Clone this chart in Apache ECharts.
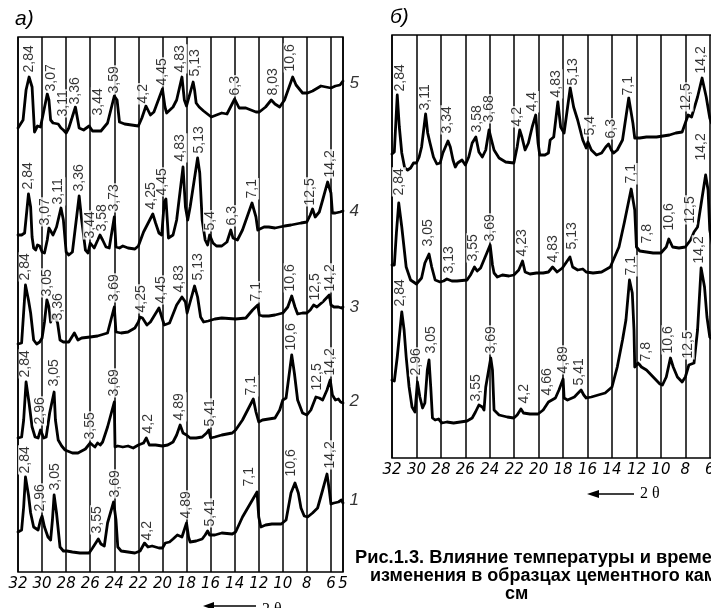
<!DOCTYPE html>
<html>
<head>
<meta charset="utf-8">
<script src="https://cdn.jsdelivr.net/npm/echarts@6/dist/echarts.min.js"></script>
<style>
  html, body { margin: 0; padding: 0; background: #fff; }
  #chart { width: 711px; height: 608px; }
</style>
</head>
<body>
<div id="chart"></div>
<script>
// шкала 2θ (подписи и вертикальные линии)
var ticksA = [32, 30, 28, 26, 24, 22, 20, 18, 16, 14, 12, 10, 8, 6, 5];
var ticksB = [32, 30, 28, 26, 24, 22, 20, 18, 16, 14, 12, 10, 8, 6];

// панель а) — дифрактограммы 1..5, [2θ, интенсивность]
var traceA5 = [[32.0,444],[31.58,452],[31.33,482],[31.08,495],[30.83,485],[30.63,440],[30.53,439],[30.38,446],[30.13,445],[30.0,446],[29.57,478],[29.43,472],[29.29,452],[29.09,449],[28.66,448],[28.43,444],[28.23,442],[28.0,439],[27.78,444],[27.23,465],[26.92,444],[26.55,442],[26.09,446],[25.81,441],[25.11,441],[24.56,449],[24.0,476],[23.77,472],[23.57,450],[23.14,448],[22.57,447],[22.0,446],[21.71,454],[21.37,466],[21.0,457],[20.71,460],[20.0,483],[19.79,465],[19.65,459],[19.12,465],[18.82,472],[18.38,495],[18.18,472],[18.0,466],[17.45,490],[17.33,482],[17.2,469],[16.95,465],[16.58,461],[15.94,455],[15.51,457],[15.07,459],[14.64,458],[14.0,473],[13.63,464],[13.07,464],[12.23,460],[11.95,460],[11.43,465],[10.96,472],[10.65,468],[10.26,465],[9.86,472],[9.18,495],[8.9,487],[8.63,483],[8.36,479],[7.94,479],[7.53,481],[6.83,486],[6.42,485],[6.0,484],[5.63,486],[5.25,487],[5.0,491]];
var traceA4 = [[32,337],[31.7,337],[31.45,339],[31.13,378],[30.95,365],[30.83,335],[30.7,324],[30.53,322],[30.38,327],[30.2,326],[30,320],[29.8,319],[29.57,332],[29.43,344],[29.29,342],[29.09,337],[28.8,345],[28.43,364],[28.23,352],[28,320],[27.78,317],[27.48,320],[26.92,376],[26.71,352],[26.4,322],[26.18,319],[26,329],[25.89,329],[25.67,324],[25.19,337],[24.97,332],[24.69,325],[24.42,324],[24,355],[23.86,325],[23.57,324],[23.29,326],[22.86,324],[22.29,323],[22,326],[21.57,340],[20.8,358],[20.57,349],[20.29,339],[20.06,337],[19.85,370],[19.71,373],[19.5,334],[19.12,337],[18.82,352],[18.29,405],[18.09,365],[17.9,352],[17.7,365],[17.08,414],[16.9,399],[16.7,352],[16.45,332],[16.25,327],[16.08,337],[16,338],[15.8,329],[15.51,326],[15.07,326],[14.64,330],[14.32,342],[14.14,334],[13.77,332],[13.35,342],[12.56,369],[12.23,355],[12.08,342],[11.95,344],[11.56,345],[11.17,345],[10.65,344],[10.26,345],[9.86,346],[9.32,347],[8.49,349],[8,350],[7.72,357],[7.53,363],[7.31,355],[6.97,360],[6.69,372],[6.28,390],[6,379],[5.88,359],[5.63,359],[5.25,360],[5,361]];
var traceA3 = [[32,228],[31.7,229],[31.38,287],[31.13,272],[30.95,259],[30.7,232],[30.45,228],[30.2,230],[30,234],[29.8,250],[29.6,272],[29.43,265],[29.29,250],[29.09,257],[28.89,255],[28.71,249],[28.51,232],[28.23,230],[27.78,230],[27.32,239],[27.02,232],[26.71,234],[26,235],[25.39,236],[24.56,239],[24,265],[23.86,240],[23.43,239],[22.86,240],[22.29,244],[22,250],[21.86,255],[21.66,254],[21.29,247],[21,250],[20.29,264],[20.14,262],[19.85,247],[19.41,249],[18.82,267],[18.38,275],[18.09,270],[17.95,259],[17.7,270],[17.33,286],[17.08,275],[16.83,255],[16.58,250],[16.2,251],[15.65,253],[15.07,254],[13.92,253],[13.07,254],[12.51,262],[12.08,267],[11.95,257],[11.69,256],[11.17,256],[10.65,257],[10,259],[9.59,265],[9.26,276],[8.99,265],[8.77,258],[8.36,259],[8,259],[7.72,262],[7.44,267],[7.17,265],[6.69,270],[6.14,277],[6,267],[5.75,265],[5.38,265],[5.13,264],[5,265]];
var traceA2 = [[32,134],[31.7,135],[31.53,152],[31.33,190],[31.08,169],[30.83,145],[30.58,135],[30.33,134],[30.13,142],[30.03,144],[29.86,134],[29.66,135],[29.37,159],[29,180],[28.89,152],[28.66,132],[28.37,126],[28.09,122],[27.48,119],[27.02,119],[26.4,123],[26,129],[25.81,127],[25.61,125],[25.39,129],[25.17,127],[24.97,130],[24.56,145],[24,170],[23.94,125],[23.71,126],[23.29,125],[22.86,126],[22.43,124],[22,127],[21.57,129],[21.34,134],[21.09,127],[20.57,127],[20,126],[19.56,127],[19.12,130],[18.82,137],[18.53,147],[18.29,139],[18,137],[17.7,134],[17.2,134],[16.7,135],[16.33,139],[16.15,142],[16,134],[15.65,135],[15.07,137],[14.2,139],[13.92,142],[13.35,152],[12.45,173],[12.23,160],[12,150],[11.69,152],[11.17,153],[10.65,154],[10.26,162],[10,172],[9.73,174],[9.26,217],[9.04,199],[8.77,172],[8.36,159],[8,157],[7.67,162],[7.25,175],[6.97,174],[6.69,172],[6.33,182],[6.06,192],[5.88,177],[5.63,172],[5.38,173],[5.2,170],[5,169]];
var traceA1 = [[32,40],[31.7,42],[31.53,65],[31.38,95],[31.13,77],[30.95,59],[30.7,45],[30.33,42],[30.13,52],[30,56],[29.8,45],[29.51,35],[29.29,32],[29.14,52],[29,77],[28.8,59],[28.51,25],[28.23,21],[27.94,21],[27.48,20],[26.86,19],[26.09,19],[25.81,24],[25.33,33],[25.11,28],[24.83,26],[24.56,49],[24.06,70],[23.86,52],[23.71,25],[23.43,21],[22.86,20],[22.29,19],[21.86,21],[21.49,29],[21.2,25],[20.86,26],[20.29,24],[20,24],[19.76,29],[19.41,30],[19.12,33],[18.76,37],[18.38,35],[18,49],[17.83,35],[17.7,30],[17.2,31],[16.7,33],[16.45,37],[16.25,41],[16.08,37],[15.65,37],[15.07,39],[14.2,38],[13.92,40],[13.35,55],[12.14,80],[12,55],[11.82,45],[11.43,47],[10.91,48],[10.13,48],[9.73,52],[9.32,79],[8.99,89],[8.71,79],[8.49,64],[8.22,56],[7.94,55],[7.53,59],[7.11,64],[6.69,82],[6.33,98],[6.14,82],[6,68],[5.75,69],[5.38,70],[5.13,72],[5,69]];

// номера кривых у правого края панели а, [2θ, уровень, номер]
var traceNumbers = [[5,489,'5'],[5,361,'4'],[5,265,'3'],[5,171,'2'],[5,72,'1']];

// подписи межплоскостных расстояний, [2θ, уровень, текст]
var peaksA5 = [[31.03,498,'2,84'],[29.23,479,'3,07'],[28.17,454,'3,11'],[27.23,466,'3,36'],[25.33,455,'3,44'],[24,477,'3,59'],[21.57,467,'4,2'],[20,485,'4,45'],[18.47,498,'4,83'],[17.25,494,'5,13'],[13.92,475,'6,3'],[10.78,475,'8,03'],[9.32,499,'10,6']];
var peaksA4 = [[31.08,381,'2,84'],[29.71,345,'3,07'],[28.6,366,'3,11'],[26.86,379,'3,36'],[26,332,'3,44'],[24.97,339,'3,58'],[24,359,'3,73'],[20.86,361,'4,25'],[20,375,'4,45'],[18.47,409,'4,83'],[16.9,417,'5,13'],[16,340,'5,4'],[14.2,345,'6,3'],[12.51,372,'7,1'],[7.67,365,'12,5'],[6.06,393,'14,2']];
var peaksA3 = [[31.33,290,'2,84'],[29.57,274,'3,05'],[28.66,250,'3,36'],[24,269,'3,69'],[21.71,258,'4,25'],[20.06,267,'4,45'],[18.59,278,'4,83'],[17,290,'5,13'],[12.17,269,'7,1'],[9.32,279,'10,6'],[7.25,270,'12,5'],[6.05,279,'14,2']];
var peaksA2 = [[31.33,193,'2,84'],[30.13,146,'2,96'],[28.94,184,'3,05'],[26,131,'3,55'],[24,174,'3,69'],[21.14,137,'4,2'],[18.53,150,'4,89'],[16,144,'5,41'],[12.56,175,'7,1'],[9.26,220,'10,6'],[7.11,180,'12,5'],[6,195,'14,2']];
var peaksA1 = [[31.38,97,'2,84'],[30.13,59,'2,96'],[28.89,80,'3,05'],[25.39,37,'3,55'],[23.86,73,'3,69'],[21.23,30,'4,2'],[18,52,'4,89'],[16,44,'5,41'],[12.79,84,'7,1'],[9.26,94,'10,6'],[6.06,102,'14,2']];

// панель б) — три дифрактограммы
var traceB3 = [[32,304],[31.81,306],[31.57,363],[31.4,331],[31.2,305],[30.96,290],[30.72,288],[30.48,290],[30.24,295],[30,295],[29.78,301],[29.58,311],[29.25,344],[29.08,325],[28.89,315],[28.61,301],[28.33,294],[28.06,295],[27.84,305],[27.42,317],[27.23,311],[27.01,298],[26.82,291],[26.63,295],[26.27,298],[26,293],[25.72,301],[25.44,315],[25.14,321],[24.89,306],[24.61,301],[24.33,308],[24.06,328],[23.86,318],[23.65,308],[23.24,300],[22.7,296],[22.03,295],[21.76,311],[21.55,328],[21.37,321],[21.11,308],[20.84,315],[20.53,331],[20.24,343],[20.05,315],[19.91,303],[19.49,303],[19.2,305],[19.06,318],[18.77,321],[18.43,356],[18.2,331],[17.92,325],[17.42,370],[17.14,351],[16.81,338],[16.39,318],[16.11,310],[15.97,316],[15.92,317],[15.69,308],[15.27,303],[14.85,305],[14.51,311],[14.28,314],[14.06,308],[13.86,305],[13.57,308],[13.14,318],[12.63,360],[12.29,335],[12.14,320],[11.73,320],[11.18,321],[10.36,321],[9.3,323],[8.78,325],[8.26,326],[8,335],[7.77,343],[7.49,341],[7,361],[6.63,380],[6.29,361],[6,340],[5.86,335],[5.43,330],[5,330]];
var traceB2 = [[32,193],[31.81,193],[31.64,225],[31.45,255],[31.2,231],[30.84,191],[30.48,178],[30,174],[29.58,180],[29.31,195],[28.97,204],[28.75,191],[28.47,178],[28.06,176],[27.78,177],[27.51,179],[27.37,179],[27.1,177],[26.68,177],[25.86,178],[25.58,183],[25.25,191],[25.03,187],[24.75,190],[23.97,213],[23.78,193],[23.65,185],[23.38,181],[22.97,183],[22.43,182],[22.03,183],[21.63,188],[21.32,197],[21.11,186],[20.71,184],[20.18,185],[19.63,185],[19.2,186],[18.86,191],[18.49,186],[18.06,190],[17.44,201],[17.22,191],[16.81,188],[16.39,189],[16.11,186],[15.55,185],[14.85,186],[14.14,191],[13.43,211],[13,235],[12.43,269],[12.14,248],[12,211],[11.73,207],[11.18,206],[10.63,205],[10,205],[9.56,211],[9.35,219],[9.04,211],[8.52,210],[8,211],[7.57,218],[7.29,226],[7,231],[6.57,265],[6.34,283],[6.14,268],[6,228],[5.71,208],[5,208]];
var traceB1 = [[32,78],[31.81,77],[31.57,101],[31.2,146],[31.01,128],[30.84,101],[30.6,71],[30.36,51],[30.12,46],[29.92,76],[29.72,61],[29.5,50],[29.31,55],[29.11,88],[28.97,98],[28.83,71],[28.69,40],[28.47,38],[28.19,39],[27.92,35],[27.51,36],[26.96,35],[26.41,36],[25.86,37],[25.44,40],[25.17,46],[24.89,53],[24.61,51],[24.47,48],[24.33,71],[23.92,100],[23.78,88],[23.65,48],[23.24,43],[22.57,41],[22.03,40],[21.76,43],[21.45,49],[21.24,45],[20.71,44],[20.05,44],[19.63,48],[19.2,56],[19.06,55],[18.63,60],[18.34,68],[18,79],[17.92,60],[17.64,58],[17.08,61],[16.53,68],[16.31,63],[16.11,60],[15.69,61],[15.13,63],[14.56,65],[14,71],[13.57,91],[13.14,118],[12.86,138],[12.57,178],[12.34,165],[12.2,128],[12.14,91],[11.86,95],[11.59,91],[11.18,88],[10.63,81],[10.08,74],[9.87,73],[9.56,81],[9.22,100],[8.99,91],[8.65,81],[8.26,76],[8,81],[7.71,93],[7.29,95],[7,128],[6.71,190],[6.43,171],[6.23,141],[6,121],[5.57,116],[5,116]];

var peaksB3 = [[31.28,365,'2,84'],[29.25,346,'3,11'],[27.42,323,'3,34'],[25.03,324,'3,58'],[24,334,'3,68'],[21.68,330,'4,2'],[20.5,345,'4,4'],[18.57,359,'4,83'],[17.14,371,'5,13'],[15.77,321,'5,4'],[14,318,'6,3'],[12.63,361,'7,1'],[7.86,346,'12,5'],[6.63,383,'14,2']];
var peaksB2 = [[31.4,261,'2,84'],[28.97,210,'3,05'],[27.29,183,'3,13'],[25.31,195,'3,55'],[23.92,215,'3,69'],[21.32,200,'4,23'],[18.77,194,'4,83'],[17.22,207,'5,13'],[12.43,273,'7,1'],[11.1,213,'7,8'],[9.3,226,'10,6'],[7.57,233,'12,5'],[6.63,296,'14,2']];
var peaksB1 = [[31.28,150,'2,84'],[30,81,'2,96'],[28.75,103,'3,05'],[25.11,55,'3,55'],[23.86,103,'3,69'],[21.11,53,'4,2'],[19.26,61,'4,66'],[17.92,83,'4,89'],[16.67,71,'5,41'],[12.43,181,'7,1'],[11.18,95,'7,8'],[9.35,103,'10,6'],[7.77,98,'12,5'],[6.86,193,'14,2']];

var chart = echarts.init(document.getElementById('chart'));

function traceSeries(name, data, idx) {
  return {
    name: name,
    type: 'line',
    xAxisIndex: idx,
    yAxisIndex: idx,
    data: data,
    showSymbol: false,
    silent: true,
    z: 3,
    lineStyle: { color: '#000', width: 2.8, join: 'round', cap: 'round' }
  };
}

function peakSeries(data, idx) {
  return {
    type: 'scatter',
    xAxisIndex: idx,
    yAxisIndex: idx,
    data: data,
    symbolSize: 1,
    silent: true,
    z: 5,
    itemStyle: { color: 'rgba(0,0,0,0)' },
    label: {
      show: true,
      position: [0, 0],
      rotate: 90,
      align: 'left',
      verticalAlign: 'middle',
      formatter: function (p) { return p.value[2]; },
      fontFamily: 'Liberation Sans',
      fontSize: 14,
      color: '#000',
      backgroundColor: '#fff',
      padding: [0, 1, 0, 1]
    }
  };
}

function gridLines(ticks, idx) {
  return {
    type: 'line',
    xAxisIndex: idx,
    yAxisIndex: idx,
    data: [[ticks[0], 0]],
    showSymbol: false,
    silent: true,
    z: 1,
    lineStyle: { width: 0 },
    markLine: {
      silent: true,
      symbol: ['none', 'none'],
      label: { show: false },
      lineStyle: { color: '#000', width: 1.5, type: 'solid' },
      data: ticks.map(function (t) { return { xAxis: t }; })
    }
  };
}

function xAxisFor(idx, ticks) {
  return {
    gridIndex: idx,
    type: 'value',
    min: 5,
    max: 32,
    inverse: true,
    axisLine: { show: false },
    axisTick: { show: false },
    splitLine: { show: false },
    axisLabel: {
      customValues: ticks,
      color: '#000',
      fontStyle: 'italic',
      fontFamily: 'DejaVu Sans',
      fontSize: 15,
      margin: 5
    }
  };
}

var option = {
  animation: false,
  backgroundColor: '#fff',
  grid: [
    { left: 18, top: 37, width: 325, height: 535, show: true, borderColor: '#000', borderWidth: 1.5, outerBoundsMode: 'none' },
    { left: 392, top: 35, width: 330, height: 423, show: true, borderColor: '#000', borderWidth: 1.5, outerBoundsMode: 'none' }
  ],
  xAxis: [xAxisFor(0, ticksA), xAxisFor(1, ticksB)],
  yAxis: [
    { gridIndex: 0, type: 'value', min: 0, max: 535, show: false },
    { gridIndex: 1, type: 'value', min: 0, max: 423, show: false }
  ],
  series: [
    gridLines(ticksA, 0),
    gridLines(ticksB, 1),
    traceSeries('5', traceA5, 0),
    traceSeries('4', traceA4, 0),
    traceSeries('3', traceA3, 0),
    traceSeries('2', traceA2, 0),
    traceSeries('1', traceA1, 0),
    traceSeries('б3', traceB3, 1),
    traceSeries('б2', traceB2, 1),
    traceSeries('б1', traceB1, 1),
    peakSeries(peaksA5, 0),
    peakSeries(peaksA4, 0),
    peakSeries(peaksA3, 0),
    peakSeries(peaksA2, 0),
    peakSeries(peaksA1, 0),
    peakSeries(peaksB3, 1),
    peakSeries(peaksB2, 1),
    peakSeries(peaksB1, 1),
    {
      type: 'scatter',
      xAxisIndex: 0,
      yAxisIndex: 0,
      data: traceNumbers,
      symbolSize: 1,
      silent: true,
      clip: false,
      z: 6,
      itemStyle: { color: 'rgba(0,0,0,0)' },
      label: {
        show: true,
        position: 'right',
        distance: 6,
        formatter: function (p) { return p.value[2]; },
        fontFamily: 'Liberation Sans',
        fontStyle: 'italic',
        fontSize: 17,
        color: '#000'
      }
    }
  ],
  graphic: [
    { type: 'text', left: 15, top: 9, style: { text: 'а)', font: 'italic 21px "Liberation Sans"', fill: '#000' } },
    { type: 'text', left: 390, top: 7, style: { text: 'б)', font: 'italic 21px "Liberation Sans"', fill: '#000' } },
    // стрелка 2θ под панелью а
    { type: 'line', shape: { x1: 212, y1: 606, x2: 256, y2: 606 }, style: { stroke: '#000', lineWidth: 1.5 } },
    { type: 'polygon', shape: { points: [[203, 606], [214, 602], [214, 610]] }, style: { fill: '#000' } },
    { type: 'text', x: 262, y: 602, style: { text: '2 θ', font: '16px "Liberation Serif"', fill: '#000' } },
    // стрелка 2θ под панелью б
    { type: 'line', shape: { x1: 597, y1: 494, x2: 634, y2: 494 }, style: { stroke: '#000', lineWidth: 1.5 } },
    { type: 'polygon', shape: { points: [[587, 494], [599, 490], [599, 498]] }, style: { fill: '#000' } },
    { type: 'text', x: 640, y: 494, style: { text: '2 θ', font: '16px "Liberation Serif"', fill: '#000', verticalAlign: 'middle' } },
    // подпись к рисунку
    { type: 'text', x: 355, y: 558, style: { text: 'Рис.1.3. Влияние температуры и време', font: 'bold 18.3px "Liberation Sans"', fill: '#000', verticalAlign: 'middle' } },
    { type: 'text', x: 370, y: 576, style: { text: 'изменения в образцах цементного кам', font: 'bold 18px "Liberation Sans"', fill: '#000', verticalAlign: 'middle' } },
    { type: 'text', x: 505, y: 594, style: { text: 'см', font: 'bold 18px "Liberation Sans"', fill: '#000', verticalAlign: 'middle' } }
  ]
};

chart.setOption(option);
</script>
</body>
</html>
